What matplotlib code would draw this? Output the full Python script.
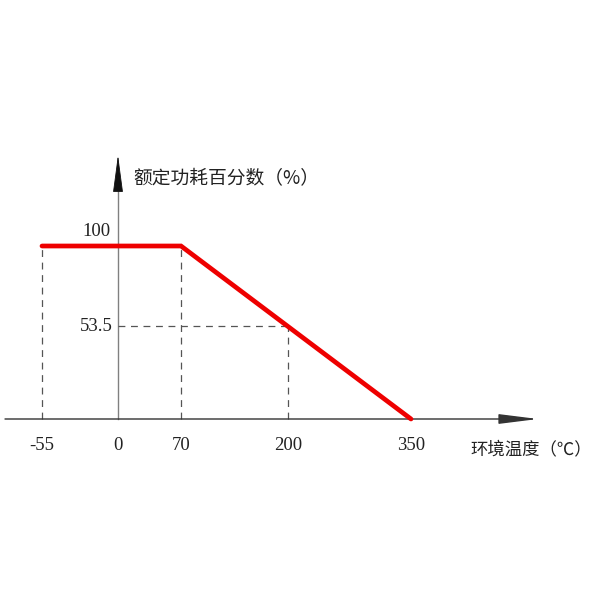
import matplotlib
matplotlib.use("Agg")
import matplotlib.pyplot as plt
import numpy as np

# data
tick_temps = [-55, 0, 70, 200, 350]
tick_labels = ["-55", "0", "70", "200", "350"]
curve_temps = [-55, 70, 350]
curve_power = [100, 100, 0]
mark_temp = 200
mark_power = 53.5
y_ticks = [100, 53.5]
y_labels = ["100", "53.5"]
x_title = "环境温度（℃）"
y_title = "额定功耗百分数（%）"

# schematic (non-linear) x axis: temperature -> pixel column
T_KNOTS = np.array([-55.0, 0.0, 70.0, 200.0, 350.0])
P_KNOTS = np.array([42.0, 118.0, 181.0, 288.0, 411.0])


def _pw(v, xs, ys):
    v = np.asarray(v, dtype=float)
    shape = v.shape
    v = np.atleast_1d(v)
    out = np.interp(v, xs, ys)
    lo = v < xs[0]
    hi = v > xs[-1]
    out[lo] = ys[0] + (v[lo] - xs[0]) * (ys[1] - ys[0]) / (xs[1] - xs[0])
    out[hi] = ys[-1] + (v[hi] - xs[-1]) * (ys[-1] - ys[-2]) / (xs[-1] - xs[-2])
    return out.reshape(shape)


def fwd(t):
    return _pw(t, T_KNOTS, P_KNOTS)


def inv(p):
    return _pw(p, P_KNOTS, T_KNOTS)


fig = plt.figure(figsize=(6, 6), dpi=100)
ax = fig.add_axes([0, 0, 1, 1])
ax.set_xscale("function", functions=(fwd, inv))
ax.set_xlim(float(inv(0.0)), float(inv(600.0)))
# y: 0 at pixel 419, 100 at pixel 246 (from top)
ppx = 100 / 173
ax.set_ylim(-(600 - 419) * ppx, 100 + 246 * ppx)
ax.axis("off")

txt = "#222222"
serif = ["Liberation Serif", "DejaVu Serif"]
cjk = ["Noto Sans CJK SC", "DejaVu Sans"]

# x axis with arrow
ax.annotate("", xy=(538 / 600, 0), xytext=(5 / 600, 0),
            xycoords=ax.get_yaxis_transform(),
            arrowprops=dict(arrowstyle="-|>,head_length=2.4,head_width=0.3",
                            mutation_scale=10, lw=1.0, color="#333333",
                            shrinkA=0, shrinkB=0))
# y axis: grey shaft, black head
y_tip = 100 + (246 - 155) * ppx
y_base = 100 + (246 - 190) * ppx
ax.plot([0, 0], [0, y_base], color="#808080", lw=1.0)
ax.annotate("", xy=(0, y_tip), xytext=(0, y_base),
            arrowprops=dict(arrowstyle="-|>,head_length=2.4,head_width=0.32",
                            mutation_scale=10, lw=0.6, color="#111111",
                            shrinkA=0, shrinkB=0))

# dashed guides
dash = (0, (5.5, 4.5))
ax.vlines([curve_temps[0], curve_temps[1]], 0, curve_power[0],
          colors="#555555", linestyles=[dash], lw=0.9)
ax.vlines([mark_temp], 0, mark_power, colors="#555555", linestyles=[dash], lw=0.9)
ax.hlines([mark_power], 0, mark_temp, colors="#555555", linestyles=[dash], lw=0.9)

# derating curve
ax.plot(curve_temps, curve_power, color="#ee0000", lw=3.4,
        solid_capstyle="round", solid_joinstyle="miter", zorder=5)

# x tick labels
for t, lab in zip(tick_temps, tick_labels):
    ax.text(t, (600 - 446) / 600, lab, transform=ax.get_xaxis_transform(),
            ha="center", va="center", fontsize=13.5, color=txt, family=serif)

# y tick labels
ax.text(float(inv(111)), y_ticks[0] + 15 * ppx, y_labels[0], ha="right",
        va="center", fontsize=13.5, color=txt, family=serif)
ax.text(float(inv(113)), y_ticks[1], y_labels[1], ha="right", va="center",
        fontsize=13.5, color=txt, family=serif)

# axis titles
ax.text(470 / 600, (600 - 449) / 600, x_title, transform=ax.transAxes,
        ha="left", va="center", fontsize=12.5, color=txt, family=cjk)
ax.text(133 / 600, (600 - 179) / 600, y_title, transform=ax.transAxes,
        ha="left", va="center", fontsize=13.5, color=txt, family=cjk)

fig.savefig("out.png", dpi=100, facecolor="white")
